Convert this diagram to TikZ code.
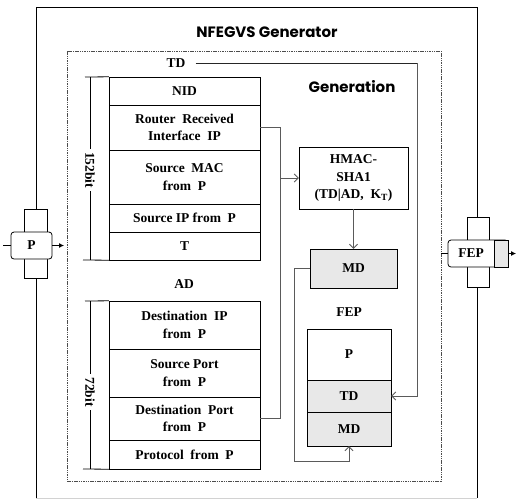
\documentclass[tikz,border=0pt]{standalone}
\usepackage{fontspec}
\setmainfont{Liberation Serif}
\newfontfamily\gothic{Poppins}
\usetikzlibrary{arrows.meta}
\definecolor{conncol}{HTML}{5A5A5A}
\definecolor{cellgray}{HTML}{E8E8E8}
\tikzset{
  cell/.style={draw, inner sep=0pt, align=center, font=\fontsize{13.5}{17.5}\selectfont\bfseries, text=black},
  conn/.style={draw=conncol, line width=1pt},
  barb/.style={-{Straight Barb[length=4pt,width=8pt,line width=0.9pt]}},
  dot/.style={-{Latex[length=5pt,width=5pt]}},
  lbl/.style={font=\fontsize{13.5}{14.5}\selectfont\bfseries, inner sep=1pt},
  gothtxt/.style={font=\gothic\bfseries\fontsize{15}{17}\selectfont},
}
\begin{document}
\begin{tikzpicture}[x=1pt,y=-1pt]
\useasboundingbox (0,0) rectangle (516,499);
% outer box
\draw[line width=0.8pt] (36,498) -- (36,7) -- (477,7) -- (477,498);
\draw[gray!35, line width=0.8pt] (36,498) -- (477,498);
\node[gothtxt] (title) at (267,32) {NFEGVS Generator};
% dashed box
\draw[gray!60!black, line width=0.7pt, dash pattern=on 1.5pt off 0.8pt] (67,51) rectangle (441,481);
\node[gothtxt] (gen) at (352,87) {Generation};
% TD / AD labels
\node[lbl] (tdlbl) at (176,63) {TD};
\node[lbl] (adlbl) at (184,284) {AD};
% table 1
\node[cell, minimum width=151, minimum height=28] (nid) at (184.5,91) {NID};
\node[cell, minimum width=151, minimum height=45] (rri) at (184.5,127.5) {Router\ \ Received\\Interface\ \ IP};
\node[cell, minimum width=151, minimum height=54] (smac) at (184.5,177) {Source\ \ MAC\\from\ \ P};
\node[cell, minimum width=151, minimum height=28] (sip) at (184.5,218) {Source\ IP\ from\ \ P};
\node[cell, minimum width=151, minimum height=28] (t) at (184.5,246) {T};
\draw[line width=0.8pt] (85,77) -- (nid.north west);
\draw[line width=0.8pt] (83,260) -- (t.south west);
\draw[line width=0.8pt] (90,77) -- (90,260);
\node[lbl, fill=white, rotate=-90, inner sep=3pt] (b152) at (90,170) {152bit};
% table 2
\node[cell, minimum width=151, minimum height=48] (dip) at (184.5,325) {Destination\ \ IP\\from\ \ P};
\node[cell, minimum width=151, minimum height=48] (sport) at (184.5,373) {Source\ Port\\from\ \ P};
\node[cell, minimum width=151, minimum height=43] (dport) at (184.5,418.5) {Destination\ \ Port\\from\ \ P};
\node[cell, minimum width=151, minimum height=29] (proto) at (184.5,454.5) {Protocol\ \ from\ \ P};
\draw[line width=0.8pt] (85,301) -- (dip.north west);
\draw[line width=0.8pt] (83,469) -- (proto.south west);
\draw[line width=0.8pt] (90,301) -- (90,469);
\node[lbl, fill=white, rotate=-90, inner sep=3pt] (b72) at (90,392) {72bit};
% HMAC
\node[cell, minimum width=109, minimum height=62] (hmac) at (353.5,178) {HMAC-\\SHA1\\(TD|AD,\ \ K\textsubscript{T})};
\node[cell, fill=cellgray, minimum width=87, minimum height=39] (md) at (353.5,268.5) {MD};
% FEP packet
\node[lbl] (feplbl) at (349,312) {FEP};
\node[cell, minimum width=84, minimum height=51] (fp) at (349,354.5) {P};
\node[cell, fill=cellgray, minimum width=84, minimum height=32] (ftd) at (349,396) {TD};
\node[cell, fill=cellgray, minimum width=84, minimum height=34] (fmd) at (349,429) {MD};
% connectors
\draw[conn] (rri.east) -- ++(20,0) coordinate (j1) |- (dport.east);
\draw[conn, barb] (j1 |- hmac.west) -- (hmac.west);
\draw[conn, barb] (hmac.south) -- (md.north);
\coordinate (c1) at (294,461);
\draw[conn, barb] (md.west) -| (c1) -| (fmd.south);
\coordinate (c2) at (417,63);
\draw[line width=1pt, draw=black!85] (tdlbl.east) ++(9,0) -- (c2);
\draw[conn, barb] (c2) |- (ftd.east);
% P node (left)
\node[draw, fill=white, line width=0.8pt, minimum width=23, minimum height=69, inner sep=0pt] (pv) at (35.5,243.5) {};
\node[cell, fill=white, rounded corners=3pt, minimum width=41, minimum height=27, line width=0.8pt] (p) at (31.5,245.5) {P};
\coordinate (pin) at (3,245.5);
\draw[line width=0.8pt] (pin) -- (p.west);
\coordinate (pout) at (64,245.5);
\draw[line width=0.8pt, dot] (p.east) -- (pout);
% FEP node (right)
\node[draw, fill=white, line width=0.8pt, minimum width=22, minimum height=70, inner sep=0pt] (fv) at (478,252) {};
\node[draw, fill=white, rounded corners=3pt, line width=0.8pt, minimum width=60, minimum height=27, inner sep=0pt] (fep) at (478,253.5) {};
\node[draw, fill=cellgray, line width=0.8pt, minimum width=14, minimum height=27, inner sep=0pt] (fepx) at (501,253.5) {};
\node[lbl] (feptxt) at (471,253.5) {FEP};
\coordinate (fin) at (441,253.5);
\draw[line width=0.8pt] (fin) -- (fep.west);
\coordinate (fout) at (516,253.5);
\draw[line width=0.8pt, dot] (fepx.east) -- (fout);
\end{tikzpicture}
\end{document}
